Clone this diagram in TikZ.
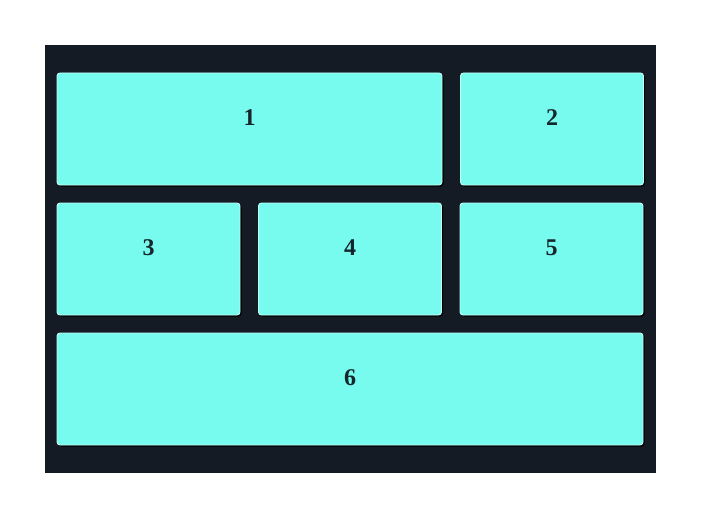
\documentclass[tikz,border=0pt]{standalone}
\usepackage{fontspec}
\setmainfont{Liberation Serif}
\usepackage{tikz}
\usetikzlibrary{positioning}
\usetikzlibrary{shadows}

\definecolor{panelbg}{HTML}{141B24}
\definecolor{tilefill}{HTML}{76FBEE}
\definecolor{tiletext}{HTML}{16262C}

\begin{document}
\begin{tikzpicture}
[
    x = 1pt, y = -1pt,
    node distance = 18pt and 18.5pt,
    tile/.style = {draw = white!55!tilefill, line width = 0.9pt, fill = tilefill,
        rounded corners = 3pt, inner sep = 0pt, outer sep = 0pt,
        minimum height = 112pt, minimum width = 183pt,
        drop shadow = {shadow xshift = 1.6pt, shadow yshift = -1.6pt, fill = black, opacity = 1}},
    wide/.style = {minimum width = 385pt},
    full/.style = {minimum width = 586pt},
    tag/.style = {font = \fontsize{24}{28}\selectfont\bfseries, text = tiletext, yshift = 11pt}]

\useasboundingbox (0,0) rectangle (702,519);
\fill[panelbg] (45,45) rectangle (656,473);

\node[tile, wide, anchor = north west, label = {[tag]center:1}] (tile1) at (57,73) {};
\node[tile, right = of tile1, label = {[tag]center:2}] (tile2) {};
\node[tile, below = of tile1.south west, anchor = north west, label = {[tag]center:3}] (tile3) {};
\node[tile, right = of tile3, label = {[tag]center:4}] (tile4) {};
\node[tile, right = of tile4, label = {[tag]center:5}] (tile5) {};
\node[tile, full, below = of tile3.south west, anchor = north west, label = {[tag]center:6}] (tile6) {};

\end{tikzpicture}
\end{document}
